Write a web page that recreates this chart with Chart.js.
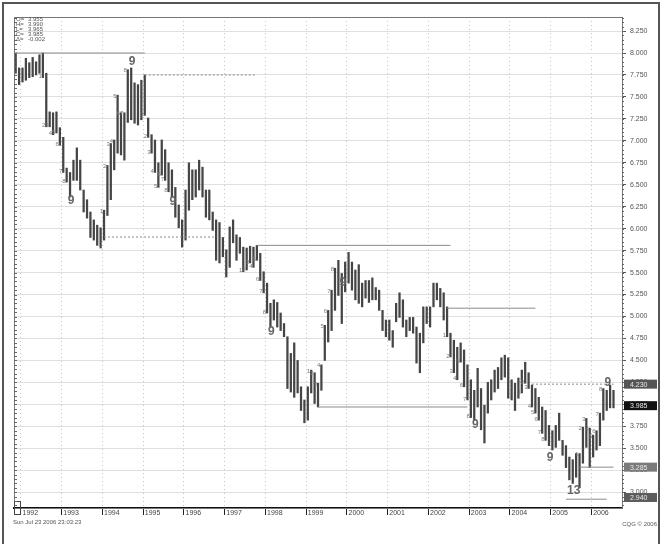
<!DOCTYPE html>
<html>
<head>
<meta charset="utf-8">
<script src="https://cdn.jsdelivr.net/npm/chart.js@4.4.1/dist/chart.umd.min.js"></script>
<style>
  html, body { margin: 0; padding: 0; background: #fff; }
  #wrap { width: 662px; height: 544px; position: relative; }
</style>
</head>
<body>
<div id="wrap"><canvas id="tdChart" width="662" height="544"></canvas></div>
<script>
// monthly bars, Nov 1991 .. Sep 2006 (Aug/Sep 2006 still empty)
const startYear = 1991, startMonth = 10;
const barCount = 179;
const months = [];
for (let i = 0; i < barCount; i++) {
  const m = startMonth + i;
  months.push((startYear + Math.floor(m / 12)) + '-' + String(m % 12 + 1).padStart(2, '0'));
}

const highs = [
  8.00, 7.83, 7.83, 7.94, 7.89, 7.95, 7.90, 7.98, 8.00, 7.77,
  7.33, 7.32, 7.33, 7.15, 7.04, 6.69, 6.64, 6.78, 6.92, 6.78,
  6.44, 6.33, 6.19, 6.10, 6.04, 6.01, 6.21, 6.72, 6.97, 7.01,
  7.52, 7.32, 7.32, 7.81, 7.83, 7.66, 7.64, 7.69, 7.75, 7.26,
  7.07, 7.01, 6.75, 7.01, 6.90, 6.75, 6.67, 6.47, 6.27, 6.10,
  6.44, 6.75, 6.67, 6.67, 6.78, 6.70, 6.44, 6.44, 6.19, 6.10,
  6.07, 5.90, 5.76, 6.02, 6.10, 5.93, 5.90, 5.79, 5.78, 5.80,
  5.79, 5.81, 5.72, 5.51, 5.38, 5.15, 5.19, 5.16, 5.04, 4.92,
  4.77, 4.58, 4.70, 4.50, 4.20, 4.05, 4.20, 4.39, 4.36, 4.24,
  4.45, 4.90, 5.07, 5.30, 5.55, 5.64, 5.49, 5.62, 5.73, 5.62,
  5.53, 5.59, 5.38, 5.41, 5.41, 5.44, 5.33, 5.30, 5.07, 4.96,
  4.96, 4.84, 5.15, 5.27, 5.19, 4.96, 4.99, 4.99, 4.88, 4.81,
  5.11, 5.11, 5.11, 5.38, 5.38, 5.32, 5.27, 5.11, 4.81, 4.73,
  4.65, 4.70, 4.62, 4.45, 4.28, 4.16, 4.41, 4.18, 3.99, 4.25,
  4.28, 4.39, 4.42, 4.53, 4.56, 4.53, 4.28, 4.24, 4.30, 4.39,
  4.48, 4.36, 4.22, 4.18, 4.08, 3.97, 3.93, 3.76, 3.70, 3.76,
  3.90, 3.59, 3.53, 3.40, 3.37, 3.44, 3.44, 3.74, 3.84, 3.73,
  3.65, 3.70, 3.90, 4.18, 4.16, 4.22, 4.16, null, null
];
const lows = [
  7.77, 7.64, 7.67, 7.69, 7.72, 7.73, 7.75, 7.77, 7.72, 7.16,
  7.16, 7.07, 7.09, 6.95, 6.64, 6.53, 6.36, 6.55, 6.55, 6.44,
  6.19, 6.12, 5.90, 5.87, 5.81, 5.78, 5.87, 6.15, 6.33, 6.67,
  6.86, 6.84, 6.78, 7.21, 7.24, 7.20, 7.18, 7.24, 7.29, 7.04,
  6.86, 6.64, 6.47, 6.61, 6.55, 6.42, 6.36, 6.13, 6.01, 5.79,
  5.87, 6.21, 6.33, 6.36, 6.44, 6.36, 6.13, 6.10, 5.98, 5.64,
  5.61, 5.68, 5.45, 5.56, 5.84, 5.64, 5.72, 5.51, 5.53, 5.61,
  5.56, 5.64, 5.41, 5.27, 5.04, 4.88, 4.96, 4.88, 4.84, 4.77,
  4.18, 4.14, 4.08, 4.13, 3.93, 3.79, 3.82, 4.13, 4.01, 3.97,
  4.16, 4.50, 4.71, 4.84, 5.07, 5.24, 4.92, 5.28, 5.38, 5.30,
  5.19, 5.15, 5.11, 5.21, 5.16, 5.19, 5.19, 5.07, 4.84, 4.77,
  4.73, 4.65, 4.94, 4.99, 4.88, 4.77, 4.84, 4.81, 4.47, 4.36,
  4.70, 4.92, 4.88, 5.11, 5.19, 5.11, 4.96, 4.77, 4.54, 4.36,
  4.28, 4.48, 4.20, 4.05, 3.85, 3.82, 3.97, 3.71, 3.56, 3.90,
  4.05, 4.14, 4.18, 4.28, 4.31, 4.07, 4.05, 3.93, 4.07, 4.13,
  4.24, 4.18, 3.97, 3.90, 3.82, 3.67, 3.59, 3.53, 3.48, 3.51,
  3.59, 3.42, 3.28, 3.14, 3.10, 3.17, 3.05, 3.33, 3.51, 3.28,
  3.40, 3.48, 3.53, 3.82, 3.93, 3.96, 3.96, null, null
];

// horizontal support / resistance levels
const lineStart = [0, 38, 26, 71, 127, 89, 152, 166, 162];
const lineEnd   = [38, 71, 59, 128, 153, 133, 176, 176, 174];
const linePrice = [8.00, 7.75, 5.905, 5.81, 5.095, 3.97, 4.23, 3.285, 2.92];

// setup counts: bar where the 9 completes and its direction
const setupEnd  = [16, 34, 46, 75, 95, 135, 157, 174];
const setupKind = ['buy', 'sell', 'buy', 'buy', 'sell', 'buy', 'buy', 'sell'];

// big count marks
const markIndex = [16, 34, 46, 75, 96, 135, 157, 174, 164];
const markPrice = [6.32, 7.90, 6.31, 4.83, 5.39, 3.77, 3.39, 4.25, 3.02];
const markText  = ['9', '9', '9', '9', '9', '9', '9', '9', '13'];

const yTicks = [3.00, 3.25, 3.50, 3.75, 4.00, 4.25, 4.50, 4.75, 5.00, 5.25, 5.50,
  5.75, 6.00, 6.25, 6.50, 6.75, 7.00, 7.25, 7.50, 7.75, 8.00, 8.25];

// price tags on the right axis
const tagPrice = [4.23, 3.985, 3.285, 2.94];

const quoteNames  = ['O=', 'H=', 'L=', 'C=', '\u0394='];
const quoteValues = ['3.955', '3.990', '3.965', '3.985', '-0.002'];

const FONT = '"Liberation Sans", Arial, sans-serif';
const isJan = i => months[i] && months[i].endsWith('-01');

const datasets = [{
  type: 'bar',
  data: lows.map((l, i) => (l === null ? null : [l, highs[i]])),
  backgroundColor: '#454545',
  barThickness: 1.6,
  order: 2
}];
const dotted = [1, 2, 6];
linePrice.forEach((p, k) => {
  datasets.push({
    type: 'line',
    data: [{ x: months[lineStart[k]], y: p }, { x: months[lineEnd[k]], y: p }],
    borderColor: '#8a8a8a',
    borderWidth: 1,
    borderDash: dotted.includes(k) ? [2, 2] : [],
    pointRadius: 0,
    order: 1
  });
});

const decor = {
  id: 'decor',
  beforeDraw(chart) {
    const c = chart.ctx;
    c.save();
    c.fillStyle = '#fff';
    c.fillRect(0, 0, chart.width, chart.height);
    c.restore();
  },
  afterDatasetsDraw(chart) {
    const c = chart.ctx, xs = chart.scales.x, ys = chart.scales.y;
    c.save();
    // small setup numbers
    c.fillStyle = '#7a7a7a';
    c.font = '6px ' + FONT;
    c.textAlign = 'right';
    setupEnd.forEach((end, s) => {
      for (let k = 1; k <= 8; k++) {
        const i = end - 9 + k;
        const x = xs.getPixelForValue(i) - 1;
        if (setupKind[s] === 'buy') {
          c.textBaseline = 'top';
          c.fillText(String(k), x, ys.getPixelForValue(lows[i]) - 4);
        } else {
          c.textBaseline = 'bottom';
          c.fillText(String(k), x, ys.getPixelForValue(highs[i]) + 4);
        }
      }
    });
    // big count marks
    c.font = 'bold 12px ' + FONT;
    c.fillStyle = '#666';
    c.textAlign = 'center';
    c.textBaseline = 'middle';
    markIndex.forEach((i, k) => {
      c.fillText(markText[k], xs.getPixelForValue(i) + 1, ys.getPixelForValue(markPrice[k]));
    });
    c.restore();
  },
  afterDraw(chart) {
    const c = chart.ctx, a = chart.chartArea, ys = chart.scales.y;
    c.save();
    // outer page frame
    c.strokeStyle = '#555';
    c.lineWidth = 2;
    c.beginPath();
    c.moveTo(3, 544); c.lineTo(3, 3); c.lineTo(659, 3); c.lineTo(659, 544);
    c.stroke();
    // plot frame
    c.strokeStyle = '#777';
    c.lineWidth = 1;
    c.strokeRect(a.left + 0.5, a.top + 0.5, a.right - a.left, a.bottom - a.top);
    // small square at the bottom-left corner
    c.strokeStyle = '#444';
    c.strokeRect(a.left + 0.5, a.bottom - 6.5, 6, 13);
    // minor ticks on both edges
    c.strokeStyle = '#666';
    c.beginPath();
    for (let v = 2.85; v < 8.41; v += 0.05) {
      const y = Math.round(ys.getPixelForValue(v)) + 0.5;
      c.moveTo(a.right, y); c.lineTo(a.right + 2, y);
      c.moveTo(a.left, y); c.lineTo(a.left + 3, y);
    }
    c.stroke();
    // price tags
    const fills = ['#555', '#111', '#7a7a7a', '#5c5c5c'];
    c.font = '7px ' + FONT;
    c.textAlign = 'left';
    c.textBaseline = 'middle';
    tagPrice.forEach((p, k) => {
      const y = ys.getPixelForValue(p);
      c.fillStyle = fills[k];
      c.fillRect(a.right + 2, y - 4.5, 33, 9);
      c.fillStyle = '#e8e8e8';
      c.fillText(p.toFixed(3), a.right + 8, y + 0.5);
    });
    // quote box top left
    c.fillStyle = '#555';
    c.font = '6px ' + FONT;
    quoteNames.forEach((n, k) => {
      const y = 19 + k * 5;
      c.fillText(n, 16, y);
      c.fillText(quoteValues[k], 28, y);
    });
    // footer
    c.fillStyle = '#555';
    c.font = '6px ' + FONT;
    c.fillText('Sun Jul 23 2006 23:03:23', 13, 522);
    c.textAlign = 'right';
    c.fillText('CQG \u00A9 2006', 657, 524);
    c.restore();
  }
};

new Chart(document.getElementById('tdChart'), {
  data: { labels: months, datasets: datasets },
  options: {
    responsive: false,
    animation: false,
    layout: { padding: { left: 14, top: 17, right: 0, bottom: 0 } },
    plugins: { legend: { display: false }, tooltip: { enabled: false } },
    scales: {
      x: {
        type: 'category',
        offset: true,
        afterFit: s => { s.height = 36; },
        grid: {
          offset: true,
          color: ctx => (isJan(ctx.index) ? 'rgba(0,0,0,0.22)' : 'rgba(0,0,0,0)'),
          tickColor: ctx => (isJan(ctx.index) ? '#222' : 'rgba(0,0,0,0)'),
          tickLength: 7,
          lineWidth: 1
        },
        border: { color: '#111', width: 2, dash: [1, 3] },
        ticks: {
          autoSkip: false,
          maxRotation: 0,
          align: 'start',
          padding: -6,
          color: '#444',
          font: { family: FONT, size: 7 },
          callback: function (v, i) { return isJan(i) ? months[i].slice(0, 4) : ''; }
        }
      },
      y: {
        position: 'right',
        min: 2.82,
        max: 8.41,
        afterFit: s => { s.width = 40; },
        afterBuildTicks: s => { s.ticks = yTicks.map(v => ({ value: v })); },
        grid: { color: '#e0e0e0', tickColor: '#555', tickLength: 4, lineWidth: 1 },
        border: { color: '#666' },
        ticks: {
          padding: 4,
          color: '#555',
          font: { family: FONT, size: 7 },
          callback: v => Number(v).toFixed(3)
        }
      }
    }
  },
  plugins: [decor]
});
</script>
</body>
</html>
